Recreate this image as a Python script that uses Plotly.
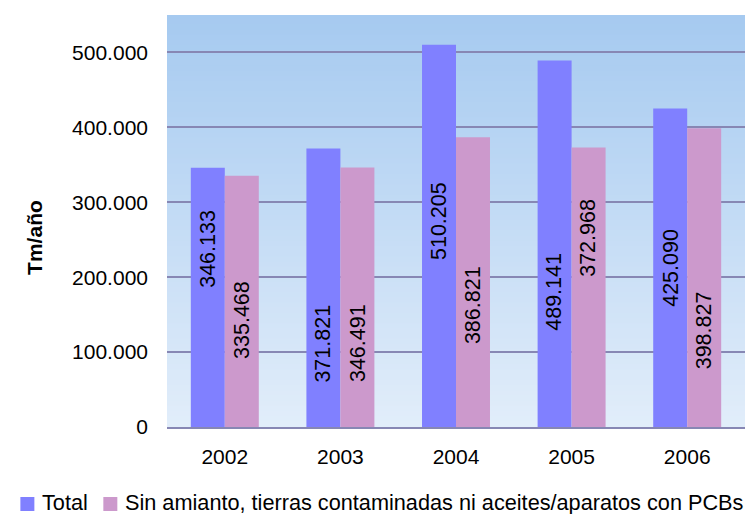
import plotly.graph_objects as go

# ---- data ----
years = ["2002", "2003", "2004", "2005", "2006"]
total = [346133, 371821, 510205, 489141, 425090]
sin_amianto = [335468, 346491, 386821, 372968, 398827]
series_names = ["Total", "Sin amianto, tierras contaminadas ni aceites/aparatos con PCBs"]
y_ticks = [0, 100000, 200000, 300000, 400000, 500000]
y_tick_labels = ["0", "100.000", "200.000", "300.000", "400.000", "500.000"]
# vertical position (in data units) of each bar label, as placed in the original
total_label_y = [237600, 111900, 275000, 180000, 212800]
sin_label_y = [142600, 112600, 162700, 252000, 129300]

FONT = "Liberation Sans, Arial, sans-serif"
C_TOTAL = "#8080FF"
C_SIN = "#CC99CC"
GRID = "#8787b4"

W, H = 745, 514
ML, MR, MT, MB = 166.7, 0, 15, 87
pw, ph = W - ML - MR, H - MT - MB


def px2paper_x(px):
    return (px - ML) / pw


def px2paper_y(py):
    return (H - MB - py) / ph


def fmt(v):
    return f"{v:,}".replace(",", ".")


fig = go.Figure()
fig.add_trace(go.Bar(x=years, y=total, name=series_names[0], marker_color=C_TOTAL,
                     marker_line_width=0, hoverinfo="skip"))
fig.add_trace(go.Bar(x=years, y=sin_amianto, name=series_names[1], marker_color=C_SIN,
                     marker_line_width=0, hoverinfo="skip"))

bargap = 0.412
half = (1 - bargap) / 4.0
annotations = []
for i in range(len(years)):
    annotations.append(dict(x=i - half, y=total_label_y[i], xref="x", yref="y",
                            text=fmt(total[i]), textangle=-90, showarrow=False,
                            font=dict(family=FONT, size=21.5, color="black")))
    annotations.append(dict(x=i + half, y=sin_label_y[i], xref="x", yref="y",
                            text=fmt(sin_amianto[i]), textangle=-90, showarrow=False,
                            font=dict(family=FONT, size=21.5, color="black")))

# axis title
annotations.append(dict(x=px2paper_x(20), y=px2paper_y(237), xref="paper", yref="paper",
                        text="<b>Tm/año</b>", textangle=-90, showarrow=False,
                        font=dict(family=FONT, size=21, color="black")))

# gradient background stripes
shapes = []
top_c = (166, 202, 240)
bot_c = (225, 237, 250)
n = 80
for k in range(n):
    t = k / (n - 1)
    c = tuple(round(top_c[j] + (bot_c[j] - top_c[j]) * t) for j in range(3))
    shapes.append(dict(type="rect", xref="paper", yref="paper", x0=0, x1=1,
                       y0=1 - (k + 1) / n, y1=min(1, 1 - k / n + 0.002),
                       fillcolor=f"rgb{c}", line_width=0, layer="below"))

# manual legend (squares + text)
leg_items = [(20, 34, 40, C_TOTAL, series_names[0]), (103, 117, 123, C_SIN, series_names[1])]
for x0, x1, tx, col, name in leg_items:
    shapes.append(dict(type="rect", xref="paper", yref="paper",
                       x0=px2paper_x(x0), x1=px2paper_x(x1),
                       y0=px2paper_y(511), y1=px2paper_y(497),
                       fillcolor=col, line_width=0, layer="above"))
    annotations.append(dict(x=px2paper_x(tx), y=px2paper_y(503), xref="paper", yref="paper",
                            xanchor="left", yanchor="middle", text=name, showarrow=False,
                            font=dict(family=FONT, size=21.7, color="black")))

fig.update_layout(
    width=W, height=H,
    margin=dict(l=ML, r=MR, t=MT, b=MB, pad=0),
    paper_bgcolor="white", plot_bgcolor="rgba(0,0,0,0)",
    barmode="group", bargap=bargap, bargroupgap=0,
    showlegend=False,
    font=dict(family=FONT, size=21, color="black"),
    shapes=shapes, annotations=annotations,
    xaxis=dict(showgrid=False, showline=True, linecolor=GRID, linewidth=1.5,
               ticks="", ticklabelstandoff=10,
               tickfont=dict(family=FONT, size=21, color="black")),
    yaxis=dict(range=[0, 550000], tickvals=y_ticks, ticktext=y_tick_labels,
               showgrid=True, gridcolor=GRID, gridwidth=1.5, zeroline=False,
               showline=False, ticks="", ticklabelstandoff=18,
               tickfont=dict(family=FONT, size=21, color="black")),
)

fig.write_html("out.html", config={"displayModeBar": False},
               post_script="document.body.style.margin='0';document.body.style.overflow='hidden';")
